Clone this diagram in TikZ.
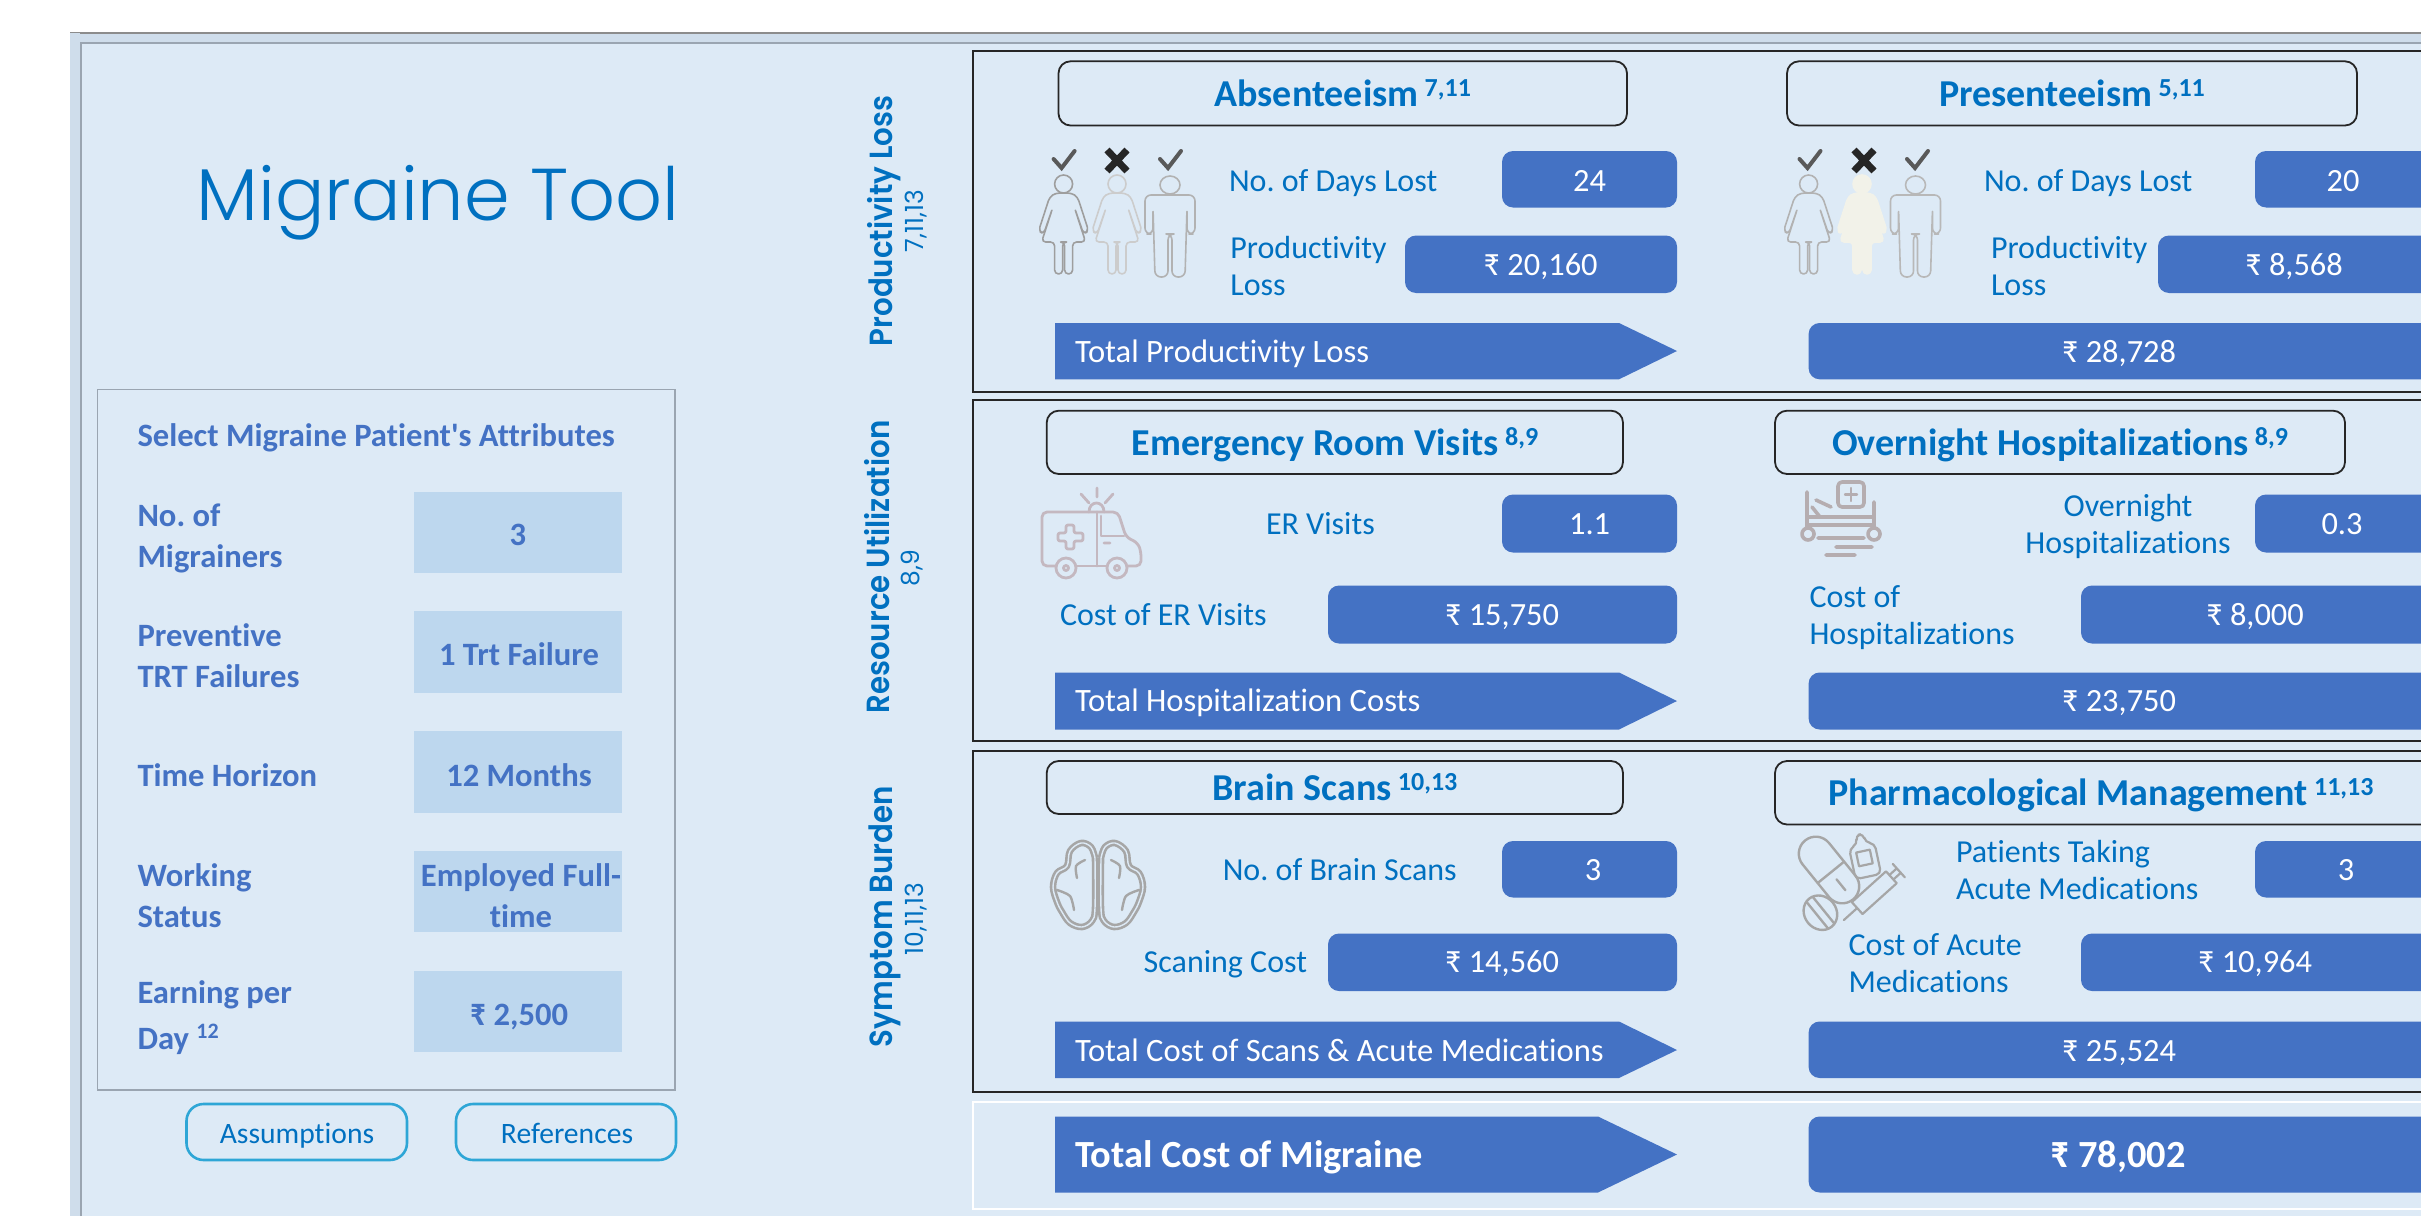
\documentclass[tikz,border=0pt]{standalone}
\usepackage{fontspec}
\setmainfont{Carlito}[Ligatures=NoCommon]
\newfontfamily\carl[Ligatures=NoCommon]{Carlito}
\newfontfamily\gothic{Poppins}
\newfontfamily\gothiclight{Poppins Light}
\newfontfamily\gothicside[FakeStretch=0.915]{Poppins SemiBold}
\usetikzlibrary{shapes.geometric}
\definecolor{bgblue}{HTML}{DDEAF6}
\definecolor{boxblue}{HTML}{4472C4}
\definecolor{inkblue}{HTML}{0070C0}
\definecolor{paleblue}{HTML}{BDD7EE}
\definecolor{framegrey}{HTML}{9AA5B1}
\definecolor{bandblue}{HTML}{CFDDEB}
\definecolor{btnblue}{HTML}{2EA6D6}
\definecolor{ambul}{HTML}{C4B8C0}
\definecolor{bedgrey}{HTML}{B5ADB0}
\definecolor{ivory}{HTML}{F2F2E9}
\newcommand{\pxfont}[2]{\fontsize{#1}{#2}\selectfont}
\newcommand{\ttlsup}[1]{\,\raisebox{5pt}{\pxfont{13}{13}#1}}
\frenchspacing
\tikzset{
  x=0.5pt,y=-0.5pt,
  every node/.style={inner sep=0pt,outer sep=0pt,yshift=-0.5pt},
  section/.style={draw=black!85,line width=1pt},
  titlebox/.style={draw=black!85,line width=0.9pt,rounded corners=6pt},
  valbox/.style={fill=boxblue,rounded corners=5.5pt},
  arrowbar/.style={fill=boxblue},
  pale/.style={fill=paleblue},
  ttl/.style={anchor=base,font=\pxfont{19}{22}\bfseries,text=inkblue},
  lab/.style={font=\pxfont{16}{18.5},text=inkblue,align=left},
  valtxt/.style={anchor=base,font=\pxfont{16.2}{18},text=white},
  arrtxt/.style={anchor=base west,font=\pxfont{16.3}{18},text=white},
  attr/.style={font=\pxfont{16.3}{20.5}\bfseries,text=boxblue,align=left},
  attrval/.style={anchor=base,font=\pxfont{16.3}{20.5}\bfseries,text=boxblue,align=center},
  btn/.style={draw=btnblue,line width=1.3pt,rounded corners=8.5pt},
  btntxt/.style={anchor=base,font=\pxfont{14.8}{16},text=inkblue},
  side/.style={rotate=90,anchor=base,font=\gothicside\pxfont{16}{18},text=inkblue},
  sidesub/.style={rotate=90,anchor=base,font=\gothic\pxfont{12.5}{14},text=inkblue},
  iconline/.style={draw=#1,line width=0.8pt,line join=round,line cap=round},
}
\newcommand{\womanicon}[3]{% cx, fill, stroke
 \begin{scope}[shift={(#1,0)}]
  \draw[iconline=#3,fill=#2] (0,184) ellipse (9 and 9);
  \draw[iconline=#3,fill=#2,rounded corners=2pt] (-8,193) -- (8,193) -- (14,197) -- (25,231) -- (20,234) -- (11,208) -- (22,242) -- (9,242) -- (9,274) -- (1,274) -- (1,242) -- (-1,242) -- (-1,274) -- (-9,274) -- (-9,242) -- (-22,242) -- (-11,208) -- (-20,234) -- (-25,231) -- (-14,197) -- cycle;
 \end{scope}}
\newcommand{\manicon}[2]{% cx, stroke
 \begin{scope}[shift={(#1,0)}]
  \draw[iconline=#2] (0,185) ellipse (10 and 9);
  \draw[iconline=#2,rounded corners=3pt] (-25,195) -- (25,195) -- (25,234) -- (17,234) -- (17,208) -- (15,277) -- (2,277) -- (2,234) -- (-2,234) -- (-2,277) -- (-15,277) -- (-17,208) -- (-17,234) -- (-25,234) -- cycle;
 \end{scope}}
\newcommand{\tickmark}[1]{\draw[draw=black!65,line width=2pt,line cap=round,line join=miter] (#1-10,159) -- (#1-2,168) -- (#1+11,151);}
\newcommand{\crossmark}[1]{\draw[draw=black!85,line width=3.5pt] (#1-10,150) -- (#1+10,171) (#1+10,150) -- (#1-10,171);}
\begin{document}
\begin{tikzpicture}
\useasboundingbox (0,0) rectangle (2421,1216);
\clip (0,0) rectangle (2421,1216);
\fill[white] (0,0) rectangle (2421,1216);
% window background
\fill[bgblue] (70,32) rectangle (2421,1216);
\fill[bandblue] (70,33) rectangle (2421,42);
\draw[draw=black!45,line width=1pt] (70,32.5) -- (2421,32.5);
\fill[bandblue] (70,33) rectangle (80,1216);
\draw[draw=framegrey,line width=1pt] (81,1216) -- (81,43) -- (2421,43);
% title
\node[anchor=base,font=\gothiclight\pxfont{36.7}{40},text=inkblue] (maintitle) at (438,219) {Migraine Tool};
% attributes panel
\draw[draw=framegrey,line width=0.8pt] (97.5,389.5) rectangle (675,1090);
\node[attr,anchor=base west] (attrhead) at (137.5,445.6) {\carl Select Migraine Patient's Attributes};
\foreach \ya/\yb in {491.5/573,611/693,731/813,851/932,970.5/1052}
  \fill[pale] (414,\ya) rectangle (622,\yb);
\node[attr,anchor=base west] (a1) at (137.5,566) {No. of\\Migrainers};
\node[attr,anchor=base west] (a2) at (137.5,686) {Preventive\\TRT Failures};
\node[attr,anchor=base west] (a3) at (137.5,785) {Time Horizon};
\node[attr,anchor=base west] (a4) at (137.5,926) {Working\\Status};
\node[attr,anchor=base west] (a5) at (137.5,1048.4) {Earning per\\[2.4pt]Day \raisebox{5.5pt}{\pxfont{11}{11}12}};
\node[attrval] (v1) at (518,544) {3};
\node[attrval] (v2) at (519,664.6) {1 Trt Failure};
\node[attrval] (v3) at (519,785) {12 Months};
\node[attrval] (v4) at (521,926) {Employed Full-\\time};
\node[attrval] (v5) at (519,1024) {₹ 2,500};
\draw[btn] (186.5,1104) rectangle (407,1160);
\node[btntxt] (b1) at (297,1142) {Assumptions};
\draw[btn] (456,1104) rectangle (676,1160);
\node[btntxt] (b2) at (567,1142) {References};
% side labels
\node[side] (s1) at (892.7,220) {Productivity Loss};
\node[sidesub] (s1b) at (923,220) {7,11,13};
\node[side] (s2) at (889,566) {Resource Utilization};
\node[sidesub] (s2b) at (919,567) {8,9};
\node[side] (s3) at (892.7,915.5) {Symptom Burden};
\node[sidesub] (s3b) at (923,918) {10,11,13};
% section frames
\draw[section] (2440,51) -- (973,51) -- (973,391.7) -- (2440,391.7);
\draw[section] (2440,399.5) -- (973,399.5) -- (973,741) -- (2440,741);
\draw[section] (2440,750.5) -- (973,750.5) -- (973,1091.7) -- (2440,1091.7);
\draw[draw=white,line width=1.2pt] (2440,1102) -- (973,1102) -- (973,1209) -- (2440,1209);
% section 1
\draw[titlebox] (1058.5,61.3) rectangle (1627,125.5);
\node[ttl] (t1) at (1342.7,105) {Absenteeism\ttlsup{7,11}};
\draw[titlebox] (1787,61.3) rectangle (2357,125.5);
\node[ttl] (t2) at (2072,105) {Presenteeism\ttlsup{5,11}};
\fill[valbox] (1502,151) rectangle (1677,207.5);
\node[valtxt] (n1) at (1589.6,190) {24};
\node[lab,anchor=base west] (l1) at (1229,190) {No. of Days Lost};
\fill[valbox] (1405,235.5) rectangle (1677,293);
\node[valtxt] (n2) at (1540.6,274) {₹ 20,160};
\node[lab,anchor=base west] (l2) at (1230.4,294) {Productivity\\Loss};
\fill[arrowbar] (1055,323) -- (1619,323) -- (1677,351) -- (1619,379.3) -- (1055,379.3) -- cycle;
\node[arrtxt] (x1) at (1075,361.7) {Total Productivity Loss};
\fill[valbox] (2255,151) rectangle (2440,207.5);
\node[valtxt] (n3) at (2343,190) {20};
\node[lab,anchor=base west] (l3) at (1984,190) {No. of Days Lost};
\fill[valbox] (2158,235.5) rectangle (2440,293);
\node[valtxt] (n4) at (2294,274) {₹ 8,568};
\node[lab,anchor=base west] (l4) at (1991,294) {Productivity\\Loss};
\fill[valbox] (1808.6,323) rectangle (2440,379.3);
\node[valtxt] (n5) at (2119,361.7) {₹ 28,728};
% people icons
\womanicon{1063.6}{none}{black!38}
\womanicon{1117}{none}{black!20}
\manicon{1170}{black!30}
\tickmark{1063.6}\crossmark{1117}\tickmark{1170}
\womanicon{1808.6}{none}{black!30}
\womanicon{1862}{ivory}{ivory}
\manicon{1915.5}{black!28}
\tickmark{1809.5}\crossmark{1864}\tickmark{1917}
% section 2
\draw[titlebox] (1046.7,410.7) rectangle (1623,474);
\node[ttl] (t3) at (1335,454) {Emergency Room Visits\ttlsup{8,9}};
\draw[titlebox] (1775,410.7) rectangle (2345,474);
\node[ttl] (t4) at (2060,454) {Overnight Hospitalizations\ttlsup{8,9}};
\fill[valbox] (1502,494.5) rectangle (1677,552.5);
\node[valtxt] (n6) at (1589.6,533) {1.1};
\node[lab,anchor=base west] (l5) at (1266,533) {ER Visits};
\fill[valbox] (1328,585.5) rectangle (1677,643.5);
\node[valtxt] (n7) at (1502,624) {₹ 15,750};
\node[lab,anchor=base west] (l6) at (1060,624) {Cost of ER Visits};
\fill[arrowbar] (1055,672.5) -- (1619,672.5) -- (1677,701) -- (1619,729.5) -- (1055,729.5) -- cycle;
\node[arrtxt] (x2) at (1075,710.7) {Total Hospitalization Costs};
\fill[valbox] (2255,494.5) rectangle (2440,552.5);
\node[valtxt] (n8) at (2342,533) {0.3};
\node[lab,anchor=base,align=center] (l7) at (2128,552.7) {Overnight\\Hospitalizations};
\fill[valbox] (2081,585.5) rectangle (2440,643.5);
\node[valtxt] (n9) at (2255,624) {₹ 8,000};
\node[lab,anchor=base west] (l8) at (1809.5,643) {Cost of\\Hospitalizations};
\fill[valbox] (1808.6,672.5) rectangle (2440,729.5);
\node[valtxt] (n10) at (2119,710.7) {₹ 23,750};
% ambulance
\begin{scope}
\draw[iconline=ambul,line width=1.4pt,rounded corners=2.5pt] (1056,566) -- (1042,566) -- (1042,512) -- (1118,512) -- (1126,537) -- (1138,543) -- (1141,552) -- (1141,566) -- (1128,566);
\draw[iconline=ambul,line width=1.4pt] (1076,566) -- (1106,566) (1097,512) -- (1097,566) (1101,516) -- (1101,536) -- (1124,536);
\draw[iconline=ambul,line width=1.4pt,fill=bgblue] (1066,568) circle (10) (1117,568) circle (10);
\draw[iconline=ambul,line width=1.4pt] (1066,568) circle (2.5) (1117,568) circle (2.5);
\draw[iconline=ambul,line width=1.4pt,rounded corners=1pt] (1066,525) -- (1074,525) -- (1074,533) -- (1083,533) -- (1083,541) -- (1074,541) -- (1074,549) -- (1066,549) -- (1066,541) -- (1058,541) -- (1058,533) -- (1066,533) -- cycle;
\draw[iconline=ambul,line width=1.4pt] (1089,512) .. controls (1089,500) and (1104,500) .. (1104,512);
\draw[iconline=ambul,line width=1.4pt] (1097,488) -- (1097,497) (1081,494) -- (1089,503) (1113,494) -- (1105,503) (1104,543) -- (1110,543);
\end{scope}
% bed
\begin{scope}
\draw[iconline=bedgrey,line width=1.8pt] (1807,492) -- (1807,528) (1874,502) -- (1874,528) (1808,517) -- (1874,517) (1808,525) -- (1874,525) (1816,500) -- (1831,507) (1812,507) -- (1820,517) (1818,538) -- (1864,538) (1836,547) -- (1872,547) (1826,555) -- (1855,555);
\draw[iconline=bedgrey,line width=1.8pt] (1808,534) circle (6) (1874,534) circle (6);
\draw[iconline=bedgrey,line width=1.8pt,rounded corners=2pt] (1838,482) rectangle (1864,507);
\draw[iconline=bedgrey,line width=1.2pt] (1851,488) -- (1851,501) (1845,494.5) -- (1857,494.5);
\end{scope}
% section 3
\draw[titlebox] (1046.7,761) rectangle (1623,814);
\node[ttl] (t5) at (1335,799) {Brain Scans\ttlsup{10,13}};
\draw[titlebox] (1775,761) rectangle (2440,824.5);
\node[ttl] (t6) at (2101,804) {Pharmacological Management\ttlsup{11,13}};
\fill[valbox] (1502,841) rectangle (1677,897.5);
\node[valtxt] (n11) at (1593,879) {3};
\node[lab,anchor=base west] (l9) at (1222.8,879) {No. of Brain Scans};
\fill[valbox] (1328,933.5) rectangle (1677,991);
\node[valtxt] (n12) at (1502,971.7) {₹ 14,560};
\node[lab,anchor=base west] (l10) at (1143.7,971.7) {Scaning Cost};
\fill[arrowbar] (1055,1021.5) -- (1619,1021.5) -- (1677,1050) -- (1619,1078) -- (1055,1078) -- cycle;
\node[arrtxt] (x3) at (1075,1060) {Total Cost of Scans \& Acute Medications};
\fill[valbox] (2255,841) rectangle (2440,897.5);
\node[valtxt] (n13) at (2346,879) {3};
\node[lab,anchor=base west] (l11) at (1956,898) {Patients Taking\\Acute Medications};
\fill[valbox] (2081,933.5) rectangle (2440,991);
\node[valtxt] (n14) at (2255,971.7) {₹ 10,964};
\node[lab,anchor=base west] (l12) at (1848.6,991.7) {Cost of Acute\\Medications};
\fill[valbox] (1808.6,1021.5) rectangle (2440,1078);
\node[valtxt] (n15) at (2119,1060) {₹ 25,524};
% brain
\foreach \s in {1,-1}{
\begin{scope}[shift={(1098,0)},xscale=\s]
\draw[draw=black!35,line width=1.3pt,double=bgblue,double distance=0.7pt,line join=round]
  plot[smooth,tension=0.6] coordinates {(3,858) (7,847) (17,843) (28,851) (31,866) (41,873) (45,887) (41,902) (36,912) (28,923) (16,927) (6,921) (3,908) (3,858)};
\draw[draw=black!35,line width=1.2pt,line cap=round] plot[smooth] coordinates {(13,860) (22,866) (21,878)} plot[smooth] coordinates {(41,890) (28,896) (24,910)};
\end{scope}}
% pills
\begin{scope}[shift={(1829,870)},rotate=-51]
\draw[iconline={black!35},line width=1.2pt,rounded corners=8.5pt] (-38,-17) rectangle (38,17);
\draw[iconline={black!35},line width=1.2pt] (3,-17) -- (3,17) (12,0) -- (26,0);
\end{scope}
\begin{scope}[shift={(1820.4,912.7)},rotate=-51]
\draw[iconline={black!35},line width=1.2pt] (0,0) ellipse (18 and 16);
\draw[iconline={black!35},line width=1.2pt] (-17,-4) -- (17,-4) (-17,4) -- (17,4);
\end{scope}
\begin{scope}[shift={(1864,856)},rotate=12]
\draw[iconline={black!35},line width=1.1pt,rounded corners=2.5pt] (-13,-10) -- (-4,-13) -- (-4,-22) -- (4,-22) -- (4,-13) -- (13,-10) -- (13,21) -- (-13,21) -- cycle;
\draw[iconline={black!35},line width=1.1pt] (-7,-5) rectangle (7,9);
\end{scope}
\begin{scope}[shift={(1875,892)},rotate=42]
\draw[iconline={black!35},line width=1.1pt,fill=bgblue] (-24,-8) rectangle (22,8);
\draw[iconline={black!35},line width=1.1pt] (-24,0) -- (-42,0) (22,-3) -- (32,-3) (22,3) -- (32,3) (32,-9) -- (32,9);
\end{scope}
% total
\fill[arrowbar] (1055,1116.5) -- (1598,1116.5) -- (1677,1154.5) -- (1598,1192.5) -- (1055,1192.5) -- cycle;
\node[arrtxt,font=\pxfont{19.2}{22}\bfseries] (x4) at (1075,1166.7) {Total Cost of Migraine};
\fill[valbox] (1808.6,1116.5) rectangle (2440,1192.5);
\node[valtxt,font=\pxfont{19.2}{22}\bfseries] (n16) at (2118,1166.7) {₹ 78,002};
\end{tikzpicture}
\end{document}
